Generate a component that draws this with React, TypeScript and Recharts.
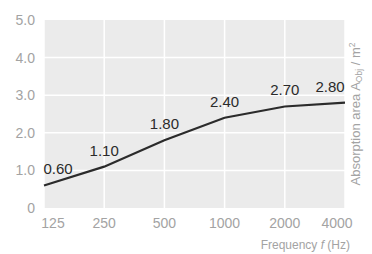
import { LineChart, Line, XAxis, YAxis, CartesianGrid, LabelList } from "recharts"

const frequencies = ["125", "250", "500", "1000", "2000", "4000"]
const absorption = [0.6, 1.1, 1.8, 2.4, 2.7, 2.8]
const yTicks = [0, 1, 2, 3, 4, 5]

const data = frequencies.map((f, i) => ({ freq: f, area: absorption[i] }))

const FONT = "'Liberation Sans', Arial, sans-serif"
const TICK_GRAY = "#a3a3a3"

function FreqTick(props: any) {
  const { x, y, payload, index } = props
  const shift = index === 0 ? 9 : index === frequencies.length - 1 ? -8 : 0
  return (
    <text x={x + shift} y={y} dy="0.71em" textAnchor="middle" fill={TICK_GRAY} fontSize={14} fontFamily={FONT}>
      {payload.value}
    </text>
  )
}

function ValueLabel(props: any) {
  const { x, y, value, index } = props
  const dx = index === 0 ? 14 : index === absorption.length - 1 ? -15 : 0
  return (
    <text x={x + dx} y={y - 15} textAnchor="middle" dominantBaseline="middle" fill="#2a2a2a" fontSize={15} fontFamily={FONT}>
      {Number(value).toFixed(2)}
    </text>
  )
}

export default function App() {
  return (
    <div style={{ position: "absolute", left: 0, top: 0, width: 372, height: 254, background: "#fff" }}>
      <LineChart width={372} height={254} data={data} margin={{ top: 20, right: 0, left: 0, bottom: 16 }}>
        <CartesianGrid fill="#ebebeb" stroke="#ffffff" strokeWidth={1.5} horizontalValues={[1, 2, 3, 4]} />
        <XAxis
          dataKey="freq"
          height={30}
          axisLine={false}
          tickLine={false}
          tickSize={0}
          tickMargin={10}
          interval={0}
          tick={<FreqTick />}
          label={{
            content: () => (
              <text x={350} y={249} textAnchor="end" fill={TICK_GRAY} fontSize={12} fontFamily={FONT}>
                Frequency <tspan fontStyle="italic">f</tspan> (Hz)
              </text>
            ),
          }}
        />
        <YAxis
          domain={[0, 5]}
          ticks={yTicks}
          width={44}
          axisLine={false}
          tickLine={false}
          tickSize={0}
          tickMargin={9}
          tick={{ fill: TICK_GRAY, fontSize: 14, fontFamily: FONT }}
          tickFormatter={(v: number) => (v === 0 ? "0" : v.toFixed(1))}
        />
        <YAxis
          yAxisId="right"
          orientation="right"
          width={27}
          axisLine={false}
          tickLine={false}
          tick={false}
          label={{
            content: () => (
              <text
                x={357}
                y={114}
                transform="rotate(-90 357 114)"
                textAnchor="middle"
                dominantBaseline="middle"
                fill={TICK_GRAY}
                fontSize={13}
                fontFamily={FONT}
              >
                Absorption area A<tspan fontSize={8.5} dy={3}>Obj</tspan>
                <tspan dy={-3}> / m</tspan>
                <tspan fontSize={8.5} dy={-4}>2</tspan>
              </text>
            ),
          }}
        />
        <Line
          type="linear"
          dataKey="area"
          stroke="#2b2b2b"
          strokeWidth={2.2}
          dot={false}
          activeDot={false}
          isAnimationActive={false}
        >
          <LabelList dataKey="area" content={<ValueLabel />} />
        </Line>
      </LineChart>
    </div>
  )
}
